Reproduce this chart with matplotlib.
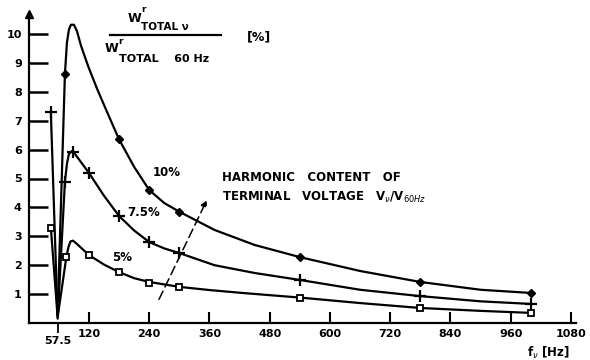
import matplotlib
matplotlib.use("Agg")
import matplotlib.pyplot as plt
from matplotlib.lines import Line2D

# ---------------- data ----------------
# 10 % harmonic content (filled dots)
f10_marks = [72, 180, 240, 300, 540, 780, 1000]
v10_marks = [8.6, 6.35, 4.6, 3.85, 2.28, 1.42, 1.04]
f10_curve = [57.5, 72, 76, 80, 84, 90, 96, 104, 118, 135, 151, 180, 210, 240, 270, 300,
             370, 450, 540, 660, 780, 900, 1000]
v10_curve = [0.3, 8.6, 9.7, 10.15, 10.32, 10.32, 10.1, 9.6, 8.9, 8.15, 7.5, 6.35, 5.4, 4.6,
             4.15, 3.85, 3.22, 2.7, 2.28, 1.8, 1.42, 1.15, 1.04]

# 7.5 % harmonic content (plus signs)
f75_marks = [44, 72, 88, 120, 180, 240, 300, 540, 780, 1000]
v75_marks = [7.3, 4.88, 5.93, 5.19, 3.7, 2.8, 2.42, 1.49, 0.93, 0.66]
f75_curve = [44, 57.5, 72, 76, 80, 86, 92, 120, 150, 180, 210, 240, 270, 300, 370, 450,
             540, 660, 780, 900, 1000]
v75_curve = [7.3, 0.15, 4.88, 5.5, 5.85, 5.95, 5.85, 5.19, 4.4, 3.7, 3.2, 2.8, 2.58, 2.42,
             2.0, 1.73, 1.49, 1.15, 0.93, 0.75, 0.66]

# 5 % harmonic content (open squares)
f5_marks = [44, 75, 120, 180, 240, 300, 540, 780, 1000]
v5_marks = [3.3, 2.3, 2.35, 1.76, 1.38, 1.25, 0.88, 0.52, 0.35]
f5_curve = [44, 57.5, 75, 79, 83, 88, 95, 120, 150, 180, 210, 240, 300, 360, 425, 540,
            660, 780, 900, 1000]
v5_curve = [3.3, 0.2, 2.3, 2.62, 2.82, 2.85, 2.75, 2.35, 2.02, 1.76, 1.55, 1.42, 1.25, 1.14,
            1.04, 0.88, 0.69, 0.52, 0.42, 0.35]

x_ticks = [120, 240, 360, 480, 600, 720, 840, 960, 1080]
x_tick_labels = ["120", "240", "360", "480", "600", "720", "840", "960", "1080"]
y_ticks = [1, 2, 3, 4, 5, 6, 7, 8, 9, 10]
y_tick_labels = ["1", "2", "3", "4", "5", "6", "7", "8", "9", "10"]

# ---------------- figure ----------------
W, H = 590, 360
fig = plt.figure(figsize=(W / 100, H / 100), dpi=100)
fig.patch.set_facecolor("white")

x0_px, x_scale = 28.76, 0.502       # px for f=0, px per Hz
y0_px, y_scale = 323.0, 28.9        # px for v=0, px per unit
xmax, ymax = 1090, 10.7
ax = fig.add_axes([x0_px / W, 1 - y0_px / H,
                   xmax * x_scale / W, ymax * y_scale / H])
ax.set_xlim(0, xmax)
ax.set_ylim(0, ymax)

for s in ("top", "right"):
    ax.spines[s].set_visible(False)
for s in ("left", "bottom"):
    ax.spines[s].set_linewidth(1.6)

lw = 1.6
for fc, vc in ((f10_curve, v10_curve), (f75_curve, v75_curve), (f5_curve, v5_curve)):
    ax.plot(fc, vc, color="black", lw=lw, solid_joinstyle="round", solid_capstyle="round")

ax.plot(f10_marks, v10_marks, linestyle="none", marker="D", ms=4.5, color="black")
ax.plot(f75_marks, v75_marks, linestyle="none", marker="+", ms=8, mew=1.6, color="black")
ax.plot(f5_marks, v5_marks, linestyle="none", marker="s", ms=4.5, mew=1.3,
        mfc="white", mec="black")

# y axis arrow
ax.plot([0], [1.0], marker="^", ms=6, color="black", transform=ax.transAxes, clip_on=False)

# ticks
font = dict(family="DejaVu Sans", weight="bold")
ax.set_yticks(y_ticks)
ax.set_yticklabels(y_tick_labels, fontsize=8, **font)
ax.tick_params(axis="y", direction="in", length=14, width=1.8, pad=5)
ax.set_xticks(x_ticks)
ax.set_xticklabels(x_tick_labels, fontsize=8, **font)
ax.tick_params(axis="x", which="major", direction="in", length=8, width=1.5, pad=4)
ax.set_xticks([57.5], minor=True)
ax.set_xticklabels(["57.5"], minor=True, fontsize=8, **font)
ax.tick_params(axis="x", which="minor", direction="out", length=7, width=1.3, pad=2)

# curve labels
ax.text(275, 5.22, "10%", fontsize=8.5, ha="center", va="center", **font)
ax.text(229, 3.81, "7.5%", fontsize=8.5, ha="center", va="center", **font)
ax.text(186, 2.25, "5%", fontsize=8.5, ha="center", va="center", **font)

ax.text(385, 5.05, "HARMONIC   CONTENT   OF", fontsize=8.5, ha="left", va="center", **font)
ax.text(385, 4.36, r"TERMINAL   VOLTAGE   V$_\nu$/V$_{60Hz}$", fontsize=8.5,
        ha="left", va="center", **font)
ax.annotate("", xy=(357, 4.33), xytext=(257, 0.73),
            arrowprops=dict(arrowstyle="-|>", lw=1.1, ls=(0, (6, 3)), color="black",
                            mutation_scale=9))

# axis label
fig.text(548 / W, 1 - 353 / H, r"f$_\nu$ [Hz]", fontsize=8.5, ha="center", va="center", **font)

# ratio title
def px(x, y):
    return x / W, 1 - y / H

fig.text(*px(128, 18), "W", fontsize=9, ha="left", va="center", **font)
fig.text(*px(141, 10), "r", fontsize=6.5, ha="left", va="center", **font)
fig.text(*px(141, 27), "TOTAL \u03bd", fontsize=7.5, ha="left", va="center", **font)
fig.text(*px(105, 49), "W", fontsize=9, ha="left", va="center", **font)
fig.text(*px(118, 41), "r", fontsize=6.5, ha="left", va="center", **font)
fig.text(*px(119, 59), "TOTAL    60 Hz", fontsize=8, ha="left", va="center", **font)
fig.add_artist(Line2D([110 / W, 221 / W], [1 - 35 / H, 1 - 35 / H], color="black", lw=1.6))
fig.text(*px(259, 37), "[%]", fontsize=9, ha="center", va="center", **font)

fig.savefig("out.png", dpi=100, facecolor="white")
